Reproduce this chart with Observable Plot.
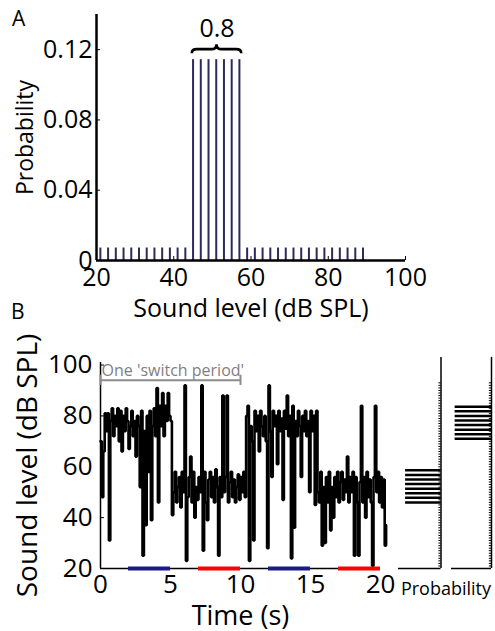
<!DOCTYPE html>
<html>
<head>
<meta charset="utf-8">
<script src="https://cdn.jsdelivr.net/npm/d3@7"></script>
<script src="https://cdn.jsdelivr.net/npm/@observablehq/plot@0.6"></script>
<style>
  html, body { margin: 0; padding: 0; background: #fff; }
  #wrap { position: relative; width: 495px; height: 631px; overflow: hidden; background: #fff; font-family: "Open Sans", sans-serif; color: #000; }
  #wrap > svg { position: absolute; overflow: visible; }
  .lab { position: absolute; line-height: 1; }
</style>
</head>
<body>
<div id="wrap">
  <div class="lab" style="left:12px;top:8px;font-size:21px;">A</div>
  <div class="lab" style="left:11px;top:301px;font-size:21px;">B</div>
  <div class="lab" style="left:396px;top:579px;width:100px;text-align:center;font-size:18px;">Probability</div>
</div>
<script>
// ---------- Panel A: level distribution ----------
const aLevels = [21,23,25,27,29,31,33,35,37,39,41,43,45,47,49,51,53,55,57,59,61,63,65,67,69,71,73,75,77,79,81,83,85,87,89];
const aProbs  = [0.0071,0.0071,0.0071,0.0071,0.0071,0.0071,0.0071,0.0071,0.0071,0.0071,0.0071,0.0071,
                 0.1143,0.1143,0.1143,0.1143,0.1143,0.1143,0.1143,
                 0.0071,0.0071,0.0071,0.0071,0.0071,0.0071,0.0071,0.0071,0.0071,0.0071,0.0071,0.0071,0.0071,0.0071,0.0071,0.0071,0.0071];
const aXTicks = [20,40,60,80,100];
const aYTicks = [0,0.04,0.08,0.12];
const braceRange = [45,57];
const braceLabel = "0.8";

// ---------- Panel B: time series ----------
const sampleStep = 0.1; // s
const levels = [
  70,48,66,81,74,81,31,78,83,72,
  80,76,83,70,82,66,80,74,83,78,
  67,76,82,72,78,64,80,76,52,82,
  25,74,37,80,58,82,39,76,83,72,
  91,46,84,76,89,72,84,78,89,80,
  78,41,50,58,46,52,56,44,58,50,
  92,23,48,56,64,46,58,40,52,47,
  56,50,92,27,58,46,39,55,58,48,
  56,46,59,52,25,56,48,88,50,56,
  88,46,54,58,48,55,46,52,57,47,
  56,50,58,48,80,84,23,76,70,31,
  82,74,80,66,82,76,72,80,70,28,
  92,74,56,82,76,80,61,82,74,79,
  47,82,75,88,72,80,24,84,36,78,
  72,82,76,56,80,74,82,72,78,50,
  82,74,80,45,82,50,46,58,29,52,
  30,56,46,58,35,52,40,56,48,58,
  46,54,58,47,55,50,64,46,56,50,
  58,25,56,46,25,54,84,46,56,40,
  58,48,55,46,21,56,84,50,58,46,
  56,44,55,29,37
];
const bXTicks = [0,5,10,15,20];
const bYTicks = [20,40,60,80,100];
const epochStart = [2,7,12,17];
const epochEnd   = [5,10,15,20];
const epochColor = ["#1c1a86","#ff0000","#1c1a86","#ff0000"];
const switchPeriod = [0,10];
const switchLabel = "One 'switch period'";

// ---------- Panel B: histograms ----------
const quietLevels = [46,47.8,49.6,51.4,53.2,55,56.8,58.6];
const loudLevels  = [71,72.8,74.6,76.4,78.2,80,81.8,83.6];
const peakProb    = [0.1,0.1,0.1,0.1,0.1,0.1,0.1,0.1];
const bgLevels = [21,22,23,24,25,26,27,28,29,30,31,32,33,34,35,36,37,38,39,40,41,42,43,44,45,46,47,48,49,50,
                  51,52,53,54,55,56,57,58,59,60,61,62,63,64,65,66,67,68,69,70,71,72,73,74,75,76,77,78,79,80,
                  81,82,83,84,85,86,87,88,89,90,91,92,93];
const bgProb = 0.006;

const FONT = "'Open Sans', sans-serif";
const wrap = document.getElementById("wrap");

// ----- Panel A -----
const aData = aLevels.map((l, i) => ({level: l, p: aProbs[i]}));
const brace = (index, scales) => {
  const x = scales.x, y = scales.y;
  const xl = x(braceRange[0] - 0.2), xr = x(braceRange[1] + 0.6), xm = (xl + xr) / 2, yb = y(0.12);
  const d = `M${xl},${yb+4}Q${xl},${yb} ${xl+5},${yb}L${xm-5},${yb}Q${xm},${yb} ${xm},${yb-5}Q${xm},${yb} ${xm+5},${yb}L${xr-5},${yb}Q${xr},${yb} ${xr},${yb+4}`;
  return d3.create("svg:path").attr("d", d).attr("fill", "none").attr("stroke", "black").attr("stroke-width", 2.6).node();
};
const plotA = Plot.plot({
  width: 495, height: 320,
  marginLeft: 96, marginRight: 90, marginTop: 14, marginBottom: 60,
  x: {domain: [20, 100], axis: null},
  y: {domain: [0, 0.14], axis: null},
  style: {fontFamily: FONT, fontSize: "25px", color: "black", background: "transparent"},
  marks: [
    Plot.ruleX(aData, {x: "level", y1: 0, y2: "p", stroke: "#2e2a5c", strokeWidth: 2}),
    Plot.ruleY([0], {x1: 20, x2: 100, stroke: "black", strokeWidth: 2.5}),
    Plot.ruleX([20], {y1: 0, y2: 0.14, stroke: "black", strokeWidth: 2.5}),
    Plot.axisX(aXTicks, {tickSize: -4, tickFormat: () => "", label: null}),
    Plot.axisX(aXTicks, {tickSize: 0, tickPadding: 8, label: null}),
    Plot.axisY(aYTicks, {tickSize: -4, tickFormat: () => "", label: null}),
    Plot.axisY(aYTicks, {tickSize: 0, tickPadding: 4, label: null, tickFormat: d => d === 0 ? "0" : d.toFixed(2)}),
    Plot.text(["Probability"], {text: d => d, frameAnchor: "left", textAnchor: "middle", dx: -71, rotate: -90, fontSize: 23}),
    Plot.text(["Sound level (dB SPL)"], {text: d => d, frameAnchor: "bottom", textAnchor: "middle", dy: 56, fontSize: 25}),
    Plot.text([braceLabel], {text: d => d, x: (braceRange[0] + braceRange[1]) / 2 + 0.2, y: 0.12, dy: -21, fontSize: 25, fontWeight: 500}),
    brace
  ]
});
plotA.style.left = "0px"; plotA.style.top = "0px";
wrap.appendChild(plotA);

// ----- Panel B main -----
const series = levels.map((v, i) => ({t: +(i * sampleStep).toFixed(2), v}));
const epochs = epochStart.map((s, i) => ({start: s, end: epochEnd[i], color: epochColor[i]}));
const bMargins = {marginTop: 32, marginBottom: 63};
const yDomB = [20, 101];
const plotB = Plot.plot({
  width: 395, height: 301,
  marginLeft: 100, marginRight: 15, ...bMargins,
  x: {domain: [0, 20], axis: null},
  y: {domain: yDomB, axis: null},
  color: {type: "identity"},
  style: {fontFamily: FONT, fontSize: "26px", color: "black", background: "transparent"},
  marks: [
    Plot.lineY(series, {x: "t", y: "v", curve: "step-after", stroke: "black", strokeWidth: 2.6, strokeLinejoin: "miter"}),
    Plot.ruleY([20], {x1: 0, x2: 20, stroke: "black", strokeWidth: 1.5}),
    Plot.ruleX([0], {y1: 20, y2: 101, stroke: "black", strokeWidth: 1.5}),
    Plot.ruleY(epochs, {y: 20, x1: "start", x2: "end", stroke: "color", strokeWidth: 4}),
    Plot.ruleY([94], {x1: switchPeriod[0], x2: switchPeriod[1], stroke: "#8c8c8c", strokeWidth: 2}),
    Plot.ruleX(switchPeriod, {y1: 92, y2: 96, stroke: "#8c8c8c", strokeWidth: 2}),
    Plot.text([switchLabel], {text: d => d, x: switchPeriod[0], y: 97.8, dx: 1, textAnchor: "start", fill: "#7f7f7f", fontSize: 16}),
    Plot.axisX(bXTicks, {tickSize: 0, tickPadding: 6, label: null}),
    Plot.axisY(bYTicks, {tickSize: -4, tickFormat: () => "", label: null}),
    Plot.axisY(bYTicks, {tickSize: 0, tickPadding: 8, label: null}),
    Plot.text(["Sound level (dB SPL)"], {text: d => d, frameAnchor: "left", textAnchor: "middle", dx: -72, rotate: -90, fontSize: 28}),
    Plot.text(["Time (s)"], {text: d => d, frameAnchor: "bottom", textAnchor: "middle", dy: 56, fontSize: 27})
  ]
});
plotB.style.left = "0px"; plotB.style.top = "330px";
wrap.appendChild(plotB);

// ----- Panel B histograms -----
function hist(peakLevels, left, width, ml, mr, xmax) {
  const peaks = peakLevels.map((l, i) => ({l, p: peakProb[i]}));
  const bg = bgLevels.map(l => ({l, p: bgProb}));
  const svg = Plot.plot({
    width, height: 301, marginLeft: ml, marginRight: mr, ...bMargins,
    x: {domain: [0, xmax], reverse: true, axis: null},
    y: {domain: yDomB, axis: null},
    style: {background: "transparent"},
    marks: [
      Plot.ruleY(bg, {y: "l", x1: 0, x2: "p", stroke: "black", strokeWidth: 1}),
      Plot.ruleY(peaks, {y: "l", x1: 0, x2: "p", stroke: "black", strokeWidth: 2.5}),
      Plot.ruleY([20], {x1: 0, x2: xmax, stroke: "black", strokeWidth: 1.5}),
      Plot.ruleX([0], {y1: 20, y2: 103, stroke: "black", strokeWidth: 1.5})
    ]
  });
  svg.style.left = left + "px"; svg.style.top = "330px";
  wrap.appendChild(svg);
}
hist(quietLevels, 390, 55, 8, 4.5, 0.12);
hist(loudLevels, 445, 50, 6, 4, 0.11);
</script>
</body>
</html>
